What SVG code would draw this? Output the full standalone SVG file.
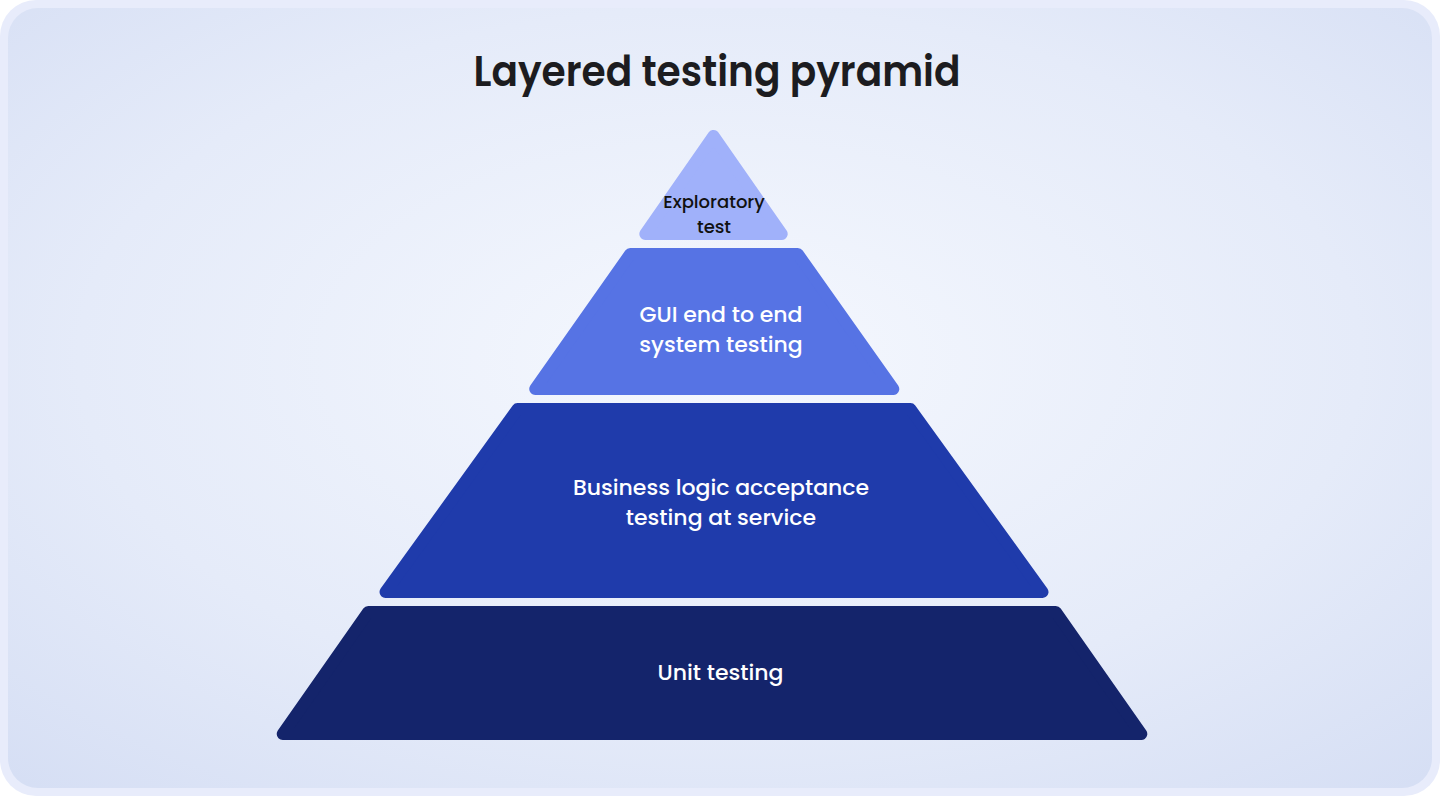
<svg xmlns="http://www.w3.org/2000/svg" width="1440" height="796" viewBox="0 0 1440 796">
  <defs>
    <radialGradient id="bg" cx="0.5" cy="0.45" r="0.75">
      <stop offset="0" stop-color="#f5f8fe"/>
      <stop offset="0.6" stop-color="#e5ebf9"/>
      <stop offset="1" stop-color="#d5def4"/>
    </radialGradient>
    <style>
      .layer { stroke-linejoin: round; stroke-width: 12; }
      .lbl { font-family: Poppins, Inter, "Noto Sans", sans-serif; font-weight: 500; text-anchor: middle; fill: #ffffff; font-size: 22px; }
      .title { font-family: Poppins, Inter, "Noto Sans", sans-serif; font-weight: 600; text-anchor: middle; fill: #1c1c20; font-size: 42px; }
    </style>
  </defs>
  <rect x="0" y="0" width="1440" height="796" rx="36" fill="#e8ecfb"/>
  <rect x="8" y="8" width="1424" height="780" rx="30" fill="url(#bg)"/>
  <text class="title" x="717" y="86" textLength="487" lengthAdjust="spacingAndGlyphs">Layered testing pyramid</text>

  <g id="unit-testing">
    <polygon class="layer" points="368.2,612 1055.8,612 1141.3,734 282.7,734" fill="#14246b" stroke="#14246b"/>
    <text class="lbl" x="720.5" y="680">Unit testing</text>
  </g>
  <g id="business-logic">
    <polygon class="layer" points="517.6,409 910.4,409 1042.5,592 385.5,592" fill="#1f3bab" stroke="#1f3bab"/>
    <text class="lbl" x="721" y="495">Business logic acceptance</text>
    <text class="lbl" x="721" y="525">testing at service</text>
  </g>
  <g id="gui-testing">
    <polygon class="layer" points="630.2,254 797.8,254 893.3,389 535.2,389" fill="#5673e4" stroke="#5673e4"/>
    <text class="lbl" x="721" y="322">GUI end to end</text>
    <text class="lbl" x="721" y="352">system testing</text>
  </g>
  <g id="exploratory-test">
    <polygon class="layer" points="713.5,136 781.7,234 645.3,234" fill="#a0b1fa" stroke="#a0b1fa"/>
    <text class="lbl" x="714" y="208" style="fill:#111111;font-size:18px">Exploratory</text>
    <text class="lbl" x="714" y="233" style="fill:#111111;font-size:18px">test</text>
  </g>
  <g id="connectors"/>
</svg>
